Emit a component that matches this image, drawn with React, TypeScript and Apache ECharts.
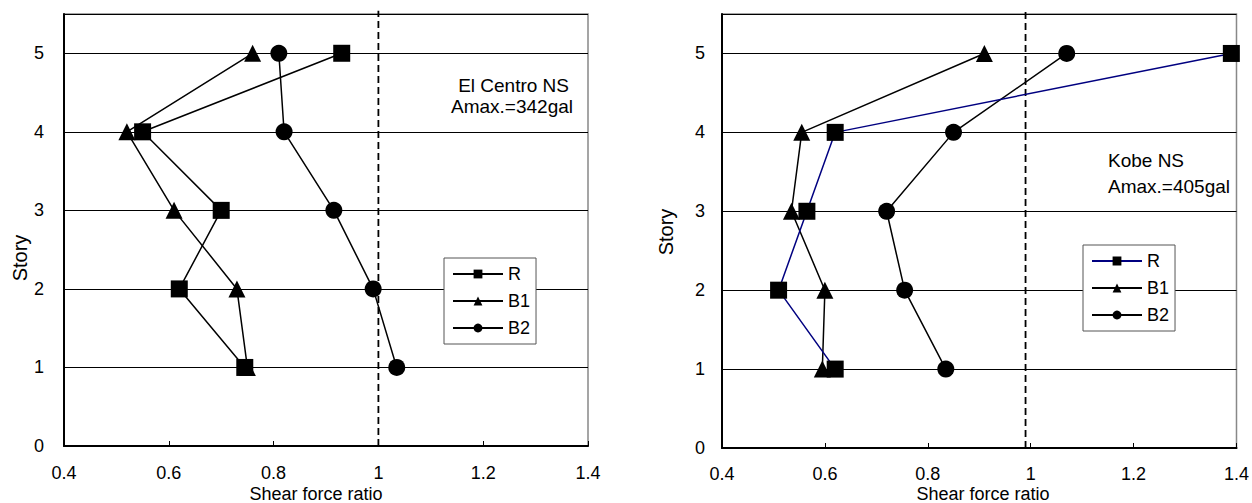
import React, { useEffect, useRef } from "react";
import * as echarts from "echarts";

// Story levels (y values)
const stories = [1, 2, 3, 4, 5];

// El Centro NS, shear force ratio per story (story 1..5)
const elCentroR = [0.745, 0.62, 0.7, 0.55, 0.93];
const elCentroB1 = [0.75, 0.73, 0.61, 0.52, 0.76];
const elCentroB2 = [1.035, 0.99, 0.915, 0.82, 0.81];

// Kobe NS
const kobeR = [0.62, 0.51, 0.565, 0.62, 1.39];
const kobeB1 = [0.595, 0.6, 0.535, 0.555, 0.91];
const kobeB2 = [0.835, 0.755, 0.72, 0.85, 1.07];

// reference (dashed) lines
const refLeftX = 1.0;
const refRightX = 0.99;
const refYRange = [0, 5.54];

const seriesNames = ["R", "B1", "B2"];
const xLabels = ["0.4", "0.6", "0.8", "1", "1.2", "1.4"];

const FONT = "Liberation Sans, Arial, sans-serif";

function pairs(xs: number[]) {
  return xs.map((x, i) => [x, stories[i]]);
}

export default function App() {
  const ref = useRef<HTMLDivElement>(null);
  useEffect(() => {
    document.body.style.margin = "0";
    const chart = echarts.init(ref.current!, undefined, { renderer: "svg" });

    const xAxisBase = (gridIndex: number, margin: number) => ({
      type: "value",
      gridIndex,
      min: 0.4,
      max: 1.4,
      interval: 0.2,
      axisLine: { show: true, onZero: false, lineStyle: { color: "#000", width: 2 } },
      axisTick: { show: true, inside: true, length: 5, lineStyle: { color: "#000", width: 1 } },
      axisLabel: {
        margin,
        color: "#000",
        fontSize: 18,
        fontFamily: FONT,
        formatter: (v: number) => {
          const s = xLabels.find((l) => Math.abs(parseFloat(l) - v) < 1e-6);
          return s ?? "";
        },
      },
      splitLine: { show: false },
    });

    const yAxisBase = (gridIndex: number, margin: number) => ({
      type: "value",
      gridIndex,
      min: 0,
      max: 5.5,
      interval: 1,
      axisLine: { show: true, onZero: false, lineStyle: { color: "#000", width: 2 } },
      axisTick: { show: false },
      axisLabel: {
        margin,
        color: "#000",
        fontSize: 18,
        fontFamily: FONT,
        formatter: (v: number) => (Number.isInteger(v) ? String(v) : ""),
      },
      splitLine: { show: true, lineStyle: { color: "#000", width: 1 } },
    });

    const markers = ["rect", "triangle", "circle"];
    const mkSeries = (
      name: string,
      idx: number,
      data: number[],
      gi: number,
      lineColor: string,
      z: number
    ) => ({
      type: "line",
      name: name + "#" + gi,
      xAxisIndex: gi,
      yAxisIndex: gi,
      data: pairs(data),
      symbol: markers[idx],
      symbolSize: 17,
      showSymbol: true,
      clip: false,
      z,
      itemStyle: { color: "#000" },
      lineStyle: { color: lineColor, width: 1.5 },
    });

    const refSeries = (gi: number, x: number) => ({
      type: "line",
      name: "ref" + gi,
      xAxisIndex: gi,
      yAxisIndex: gi,
      data: refYRange.map((y) => [x, y]),
      symbol: "none",
      clip: false,
      silent: true,
      z: 1,
      lineStyle: { color: "#000", width: 1.8, type: [7, 4] },
    });

    const legendBase = (gi: number, left: number, top: number) => ({
      show: true,
      orient: "vertical",
      left,
      top,
      data: seriesNames.map((n) => n + "#" + gi),
      formatter: (n: string) => n.split("#")[0],
      selectedMode: false,
      backgroundColor: "#fff",
      borderColor: "#555",
      borderWidth: 1,
      borderRadius: 0,
      padding: [7, 6, 7, 8],
      itemGap: 9,
      itemWidth: 50,
      itemHeight: 11,
      textStyle: { color: "#000", fontSize: 18, fontFamily: FONT },
    });

    const text = (x: number, y: number, t: string, size: number, extra: any = {}) => ({
      type: "text",
      x,
      y,
      z: 100,
      ...extra,
      style: {
        text: t,
        fill: "#000",
        font: `${size}px ${FONT}`,
        align: extra.align ?? "left",
        verticalAlign: "middle",
      },
    });

    chart.setOption({
      animation: false,
      backgroundColor: "#fff",
      grid: [
        { left: 64, top: 14, width: 524, height: 432, show: true, borderColor: "#888", borderWidth: 1.5, backgroundColor: "transparent" },
        { left: 722, top: 14, width: 518, height: 434, show: true, borderColor: "#888", borderWidth: 1.5, backgroundColor: "transparent" },
      ],
      xAxis: [xAxisBase(0, 18), xAxisBase(1, 17)],
      yAxis: [yAxisBase(0, 20), yAxisBase(1, 17)],
      legend: [legendBase(0, 444, 258), legendBase(1, 1083, 245)],
      series: [
        refSeries(0, refLeftX),
        mkSeries("B2", 2, elCentroB2, 0, "#000", 2),
        mkSeries("B1", 1, elCentroB1, 0, "#000", 3),
        mkSeries("R", 0, elCentroR, 0, "#000", 4),
        refSeries(1, refRightX),
        mkSeries("B2", 2, kobeB2, 1, "#000", 2),
        mkSeries("B1", 1, kobeB1, 1, "#000", 3),
        mkSeries("R", 0, kobeR, 1, "#000080", 4),
      ],
      graphic: [
        text(569, 85, "El Centro NS", 19, { align: "right" }),
        text(573, 106, "Amax.=342gal", 19, { align: "right" }),
        text(1108, 160, "Kobe NS", 19),
        text(1108, 186, "Amax.=405gal", 19),
        text(316, 494, "Shear force ratio", 18, { align: "center" }),
        text(983, 494, "Shear force ratio", 18, { align: "center" }),
        text(20, 258, "Story", 20, { align: "center", rotation: Math.PI / 2 }),
        text(666, 232, "Story", 20, { align: "center", rotation: Math.PI / 2 }),
      ],
    });
    return () => chart.dispose();
  }, []);
  return <div ref={ref} style={{ width: 1252, height: 503 }} />;
}
